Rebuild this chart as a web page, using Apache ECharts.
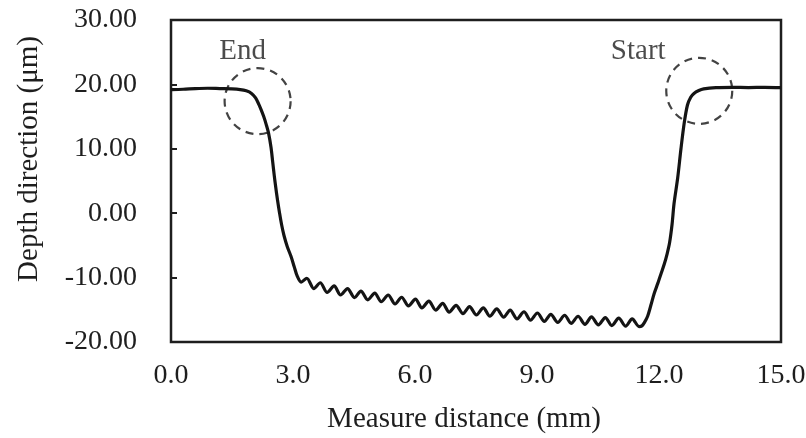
<!DOCTYPE html>
<html><head><meta charset="utf-8">
<script src="https://cdn.jsdelivr.net/npm/echarts@6/dist/echarts.min.js"></script>
<style>html,body{margin:0;padding:0;background:#fff}#c{width:806px;height:438px}</style>
</head><body><div id="c"></div>
<script>
// Profile: measure distance (mm)
const profileX = [
  0.00, 0.30, 0.60, 0.90, 1.20, 1.50, 1.70, 1.85, 1.98, 2.08, 2.16, 2.22, 2.28, 2.34, 2.40, 2.46, 2.50, 2.54, 2.57, 2.62, 2.67, 2.72, 2.78, 2.86, 2.95, 3.03, 3.10, 3.20,
  3.34, 3.51, 3.67, 3.84, 4.01, 4.17, 4.34, 4.51, 4.67, 4.84, 5.01, 5.17, 5.34, 5.51, 5.67, 5.84, 6.01, 6.17, 6.34, 6.51, 6.68, 6.84,
  7.01, 7.18, 7.34, 7.51, 7.68, 7.84, 8.01, 8.18, 8.34, 8.51, 8.68, 8.84, 9.01, 9.18, 9.34, 9.51, 9.68, 9.84, 10.01, 10.18,
  10.34, 10.51, 10.68, 10.84, 11.01, 11.18, 11.34, 11.51,
  11.58, 11.64, 11.72, 11.80, 11.88, 11.97, 12.05, 12.13, 12.20, 12.26, 12.32, 12.37, 12.46, 12.54, 12.62, 12.70, 12.78, 12.86, 12.98, 13.10, 13.40, 13.80, 14.20, 14.60, 15.00
];
// Profile: depth direction (µm)
const profileY = [
  19.20, 19.25, 19.35, 19.40, 19.35, 19.30, 19.20, 19.00, 18.60, 17.90, 16.90, 16.00, 15.00, 13.80, 12.40, 10.20, 8.00, 5.80, 4.30, 2.00, 0.00, -1.80, -3.50, -5.20, -6.70, -8.30, -9.70, -10.70,
  -10.10, -11.70, -10.80, -12.30, -11.30, -12.70, -11.70, -13.10, -12.10, -13.45, -12.40, -13.75, -12.70, -14.10, -13.05, -14.40, -13.35, -14.70, -13.65, -15.05, -14.00, -15.35,
  -14.30, -15.60, -14.50, -15.80, -14.70, -16.00, -14.85, -16.15, -15.05, -16.40, -15.30, -16.60, -15.50, -16.80, -15.70, -16.95, -15.85, -17.10, -16.00, -17.25,
  -16.10, -17.35, -16.20, -17.45, -16.30, -17.55, -16.40, -17.60,
  -17.50, -17.00, -16.00, -14.30, -12.50, -10.90, -9.40, -7.90, -6.30, -4.60, -1.80, 1.50, 5.50, 10.00, 14.00, 16.80, 18.00, 18.60, 19.05, 19.30, 19.50, 19.55, 19.50, 19.55, 19.50
];
const xTickLabels = ['0.0', '3.0', '6.0', '9.0', '12.0', '15.0'];
const yTickLabels = ['-20.00', '-10.00', '0.00', '10.00', '20.00', '30.00'];
const markerNames = ['End', 'Start'];
const markerX = [2.13, 12.99];
const markerY = [17.4, 19.0];

const FONT = '"Liberation Serif", "Times New Roman", serif';
const INK = '#1e1e1e';
const chart = echarts.init(document.getElementById('c'), null, {renderer: 'canvas'});
const lineData = profileX.map((x, i) => [x, profileY[i]]);
const markerData = markerX.map((x, i) => ({
  name: markerNames[i],
  value: [x, markerY[i]],
  label: {offset: i === 0 ? [-15, -50] : [-61, -39]}
}));

chart.setOption({
  animation: false,
  backgroundColor: '#ffffff',
  grid: {
    left: 171, right: 25, top: 20, bottom: 96,
    show: true, borderColor: INK, borderWidth: 2.5,
    outerBoundsMode: 'none'
  },
  xAxis: {
    type: 'value', min: 0, max: 15, interval: 3,
    name: 'Measure distance (mm)', nameLocation: 'middle', nameGap: 63,
    nameTextStyle: {fontFamily: FONT, fontSize: 29, color: INK, padding: [0, 24, 0, 0]},
    axisLine: {show: false},
    axisTick: {show: false},
    splitLine: {show: false},
    axisLabel: {
      fontFamily: FONT, fontSize: 28, color: INK, margin: 20,
      formatter: v => xTickLabels[Math.round(v / 3)]
    }
  },
  yAxis: {
    type: 'value', min: -20, max: 30, interval: 10,
    name: 'Depth direction (μm)', nameLocation: 'middle', nameGap: 127,
    nameTextStyle: {fontFamily: FONT, fontSize: 29, color: INK, padding: [0, 0, 0, 44]},
    axisLine: {show: false},
    axisTick: {show: true, inside: true, length: 6, lineStyle: {color: INK, width: 2}},
    splitLine: {show: false},
    axisLabel: {
      fontFamily: FONT, fontSize: 28, color: INK, margin: 34,
      formatter: v => yTickLabels[Math.round((v + 20) / 10)]
    }
  },
  series: [
    {
      type: 'line', data: lineData, smooth: 0.3, showSymbol: false,
      lineStyle: {color: '#141414', width: 3.2}
    },
    {
      type: 'scatter', data: markerData, symbol: 'circle', symbolSize: 66,
      itemStyle: {color: 'rgba(0,0,0,0)', borderColor: '#141414', borderWidth: 2.2, borderType: [8, 6]},
      label: {
        show: true, position: 'inside', formatter: p => p.name,
        fontFamily: FONT, fontSize: 29, color: INK
      },
      emphasis: {disabled: true}, z: 3
    }
  ]
});
</script>
</body></html>
